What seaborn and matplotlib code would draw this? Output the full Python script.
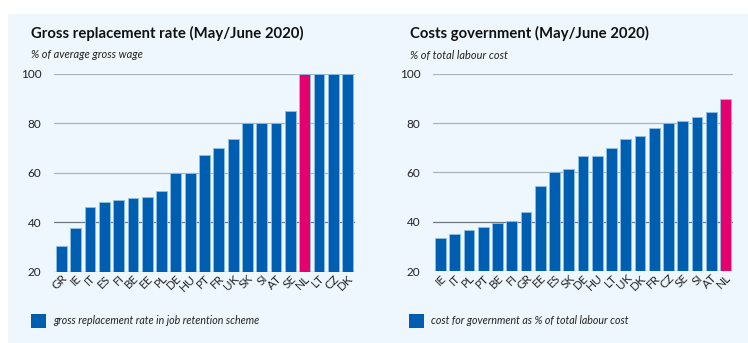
import matplotlib
matplotlib.use("Agg")
import matplotlib.pyplot as plt
import seaborn as sns
import pandas as pd
from matplotlib.patches import Rectangle

# ---- data ----
left_countries = ["GR", "IE", "IT", "ES", "FI", "BE", "EE", "PL", "DE", "HU", "PT",
                  "FR", "UK", "SK", "SI", "AT", "SE", "NL", "LT", "CZ", "DK"]
left_values = [30.2, 37.5, 46.3, 48.0, 49.1, 49.7, 50.2, 52.8, 60.0, 60.0, 67.1,
               70.2, 73.7, 80.0, 80.0, 80.0, 85.1, 100, 100, 100, 100]

right_countries = ["IE", "IT", "PL", "PT", "BE", "FI", "GR", "EE", "ES", "SK", "DE",
                   "HU", "LT", "UK", "DK", "FR", "CZ", "SE", "SI", "AT", "NL"]
right_values = [33.6, 35.0, 36.6, 37.8, 39.4, 40.5, 43.9, 54.7, 60.0, 61.3, 66.6,
                66.6, 70.0, 73.5, 74.9, 78.0, 80.2, 81.0, 82.7, 84.4, 89.9]

yticks = [20, 40, 60, 80, 100]
titles = ["Gross replacement rate (May/June 2020)", "Costs government (May/June 2020)"]
subtitles = ["% of average gross wage", "% of total labour cost"]
legend_labels = ["gross replacement rate in job retention scheme",
                 "cost for government as % of total labour cost"]

BLUE = "#005EB0"
PINK = "#E5006E"
BG = "#EEF7FD"
FONT = "Lato"

sns.set_theme(style="white")
plt.rcParams["font.family"] = [FONT, "DejaVu Sans"]

W, H = 748, 343
fig = plt.figure(figsize=(W / 100, H / 100), dpi=100)
fig.patch.set_facecolor("white")
fig.patches.append(Rectangle((8 / W, 0), 1, 1 - 14 / H, transform=fig.transFigure,
                             facecolor=BG, edgecolor="none", zorder=-10))


def px_axes(x0, y0, x1, y1):
    return fig.add_axes([x0 / W, 1 - y1 / H, (x1 - x0) / W, (y1 - y0) / H])


panels = [
    dict(countries=left_countries, values=left_values, ax=(54, 74, 355, 271.5),
         tx=31, lx=31),
    dict(countries=right_countries, values=right_values, ax=(433, 74, 733, 271),
         tx=410, lx=409),
]

for i, p in enumerate(panels):
    ax = px_axes(*p["ax"])
    ax.set_facecolor("none")
    df = pd.DataFrame({"country": p["countries"], "value": p["values"]})
    palette = {c: (PINK if c == "NL" else BLUE) for c in p["countries"]}
    for y in yticks:
        col = "#6E7880" if y in (20, 40) else "#A9B4BC"
        ax.axhline(y, color=col, lw=0.9, zorder=0)
    sns.barplot(data=df, x="country", y="value", hue="country", palette=palette,
                order=p["countries"], legend=False, width=0.76, ax=ax,
                edgecolor="#8FC0E6", linewidth=0.6, saturation=1, zorder=2)
    ax.set_xlim(-0.52, len(p["countries"]) - 0.48)
    ax.set_ylim(20, 100)
    ax.set_yticks(yticks)
    ax.set_yticklabels([str(v) for v in yticks], fontsize=8.5, color="#222222")
    ax.tick_params(axis="y", length=0, pad=9)
    ax.tick_params(axis="x", length=0, pad=1)
    ax.set_xticks(range(len(p["countries"])))
    ax.set_xticklabels(p["countries"], rotation=45, ha="right", rotation_mode="anchor",
                       fontsize=8.5, color="#222222")
    ax.set_xlabel("")
    ax.set_ylabel("")
    for s in ax.spines.values():
        s.set_visible(False)

    fig.text(p["tx"] / W, 1 - 33 / H, titles[i], fontsize=10.7, fontweight="bold",
             color="#111111", va="center", ha="left")
    fig.text(p["tx"] / W, 1 - 55 / H, subtitles[i], fontsize=7.9, style="italic",
             color="#222222", va="center", ha="left")
    fig.patches.append(Rectangle((p["lx"] / W, 1 - 328 / H), 15 / W, 14 / H,
                                 transform=fig.transFigure, facecolor=BLUE,
                                 edgecolor="none"))
    fig.text((p["lx"] + 22) / W, 1 - 321 / H, legend_labels[i], fontsize=7.7,
             style="italic", color="#222222", va="center", ha="left")

fig.savefig("out.png", dpi=100, facecolor=fig.get_facecolor())
